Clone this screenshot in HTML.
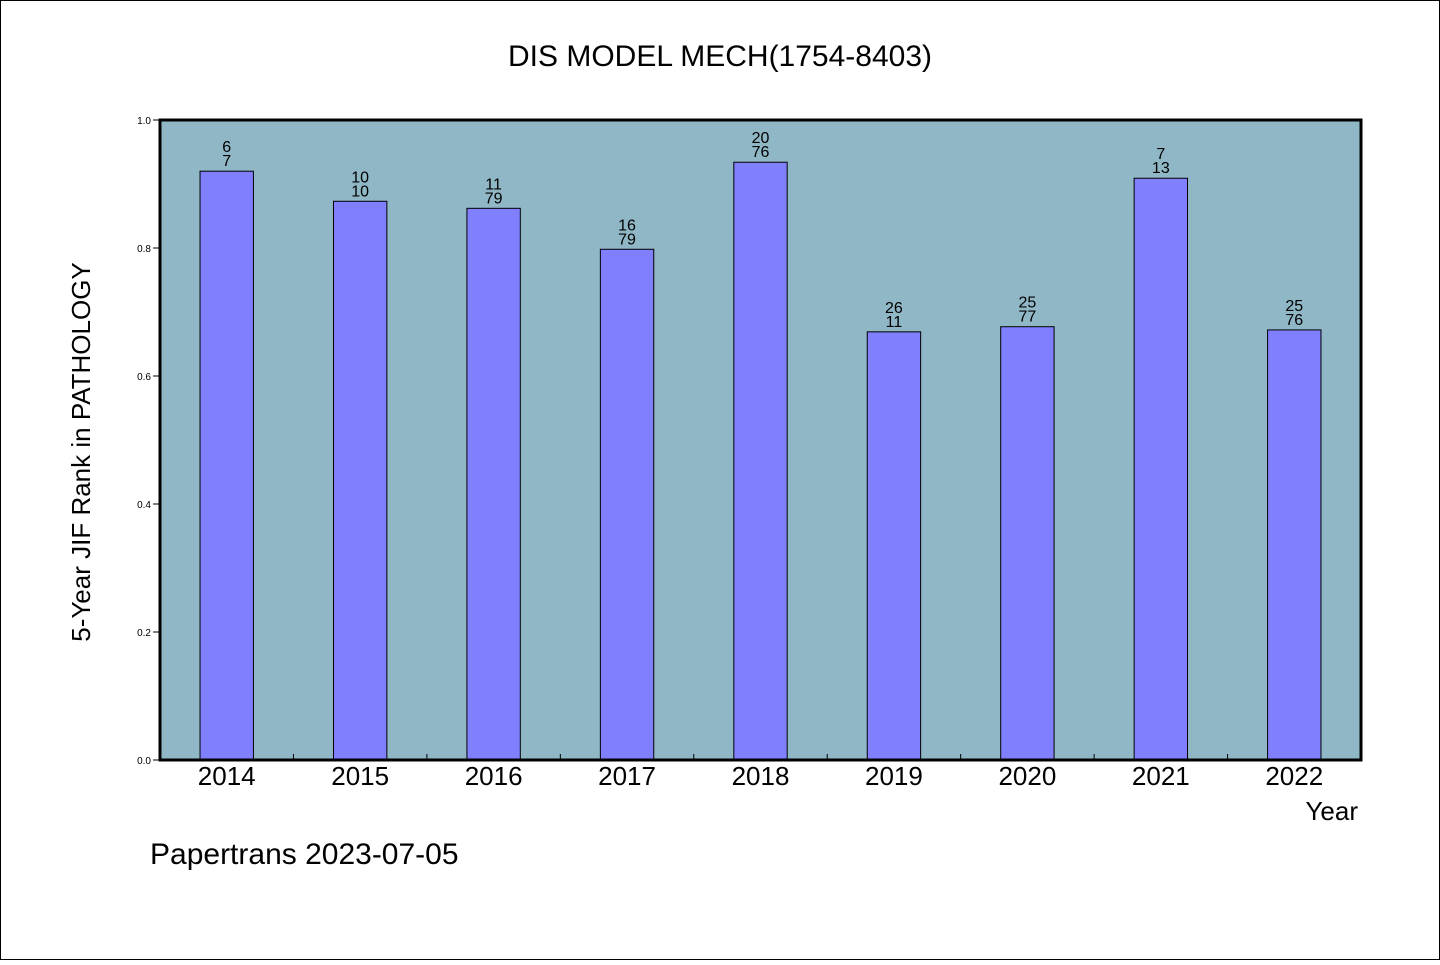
<!DOCTYPE html>
<html><head><meta charset="utf-8"><style>
body{margin:0;background:#fff}
svg text{font-family:"Liberation Sans","WenQuanYi Zen Hei",sans-serif}
</style></head><body>
<svg width="1440" height="960">
<rect x="0.5" y="0.5" width="1439" height="959" fill="#fff" stroke="#000"/>
<text x="720" y="66" text-anchor="middle" font-size="30">DIS MODEL MECH(1754-8403)</text>
<rect x="160" y="120" width="1201" height="640" fill="#8fb7c6"/>
<g id="bars"></g>
<rect x="160" y="120" width="1201" height="640" fill="none" stroke="#000" stroke-width="3"/>
<text transform="translate(90,452) rotate(-90)" text-anchor="middle" font-size="26">5-Year JIF Rank in PATHOLOGY</text>
<text x="1358" y="820" text-anchor="end" font-size="26">Year</text>
<text x="150" y="864" font-size="30">Papertrans 2023-07-05</text>
</svg>
<script>
const years=["2014","2015","2016","2017","2018","2019","2020","2021","2022"];
const values=[0.920,0.873,0.862,0.798,0.934,0.669,0.677,0.909,0.672];
const ranks=["6","10","11","16","20","26","25","7","25"];
const totals=["7","10","79","79","76","11","77","13","76"];
const yTicks=[0,0.2,0.4,0.6,0.8,1.0];
const X0=160,W=1201,Y0=760,H=640;
const band=W/years.length;
const ys=v=>Y0-v*H;
const g=document.getElementById('bars');
const NS="http://www.w3.org/2000/svg";
function mk(t,a){const e=document.createElementNS(NS,t);for(const k in a)e.setAttribute(k,a[k]);g.appendChild(e);return e;}
yTicks.forEach(t=>{
 const y=ys(t);
 const l=mk('line',{x1:153,x2:160,y1:y,y2:y,stroke:'#000'});
 
 
 const tx=mk('text',{x:151,y:y+4,'text-anchor':'end','font-size':10});
 tx.textContent=t.toFixed(1);
 
 
});
years.forEach((yr,i)=>{
 const cx=X0+band*(i+0.5),bw=band*0.4,top=ys(values[i]);
 const r=mk('rect',{x:cx-bw/2,y:top,width:bw,height:Y0-top,fill:'#8080ff',stroke:'#000','stroke-width':1});
 
 
 const a=mk('text',{x:cx,y:top-19,'text-anchor':'middle','font-size':16});
 a.textContent=ranks[i];
 
 
 const b=mk('text',{x:cx,y:top-5,'text-anchor':'middle','font-size':16});
 b.textContent=totals[i];
 
 
 const xl=mk('text',{x:cx,y:785,'text-anchor':'middle','font-size':26});
 xl.textContent=yr;
 
 
 if(i>0){const tk=mk('line',{x1:X0+band*i,x2:X0+band*i,y1:Y0,y2:Y0-6,stroke:'#000'});
 
 }
});
</script>
</body></html>
